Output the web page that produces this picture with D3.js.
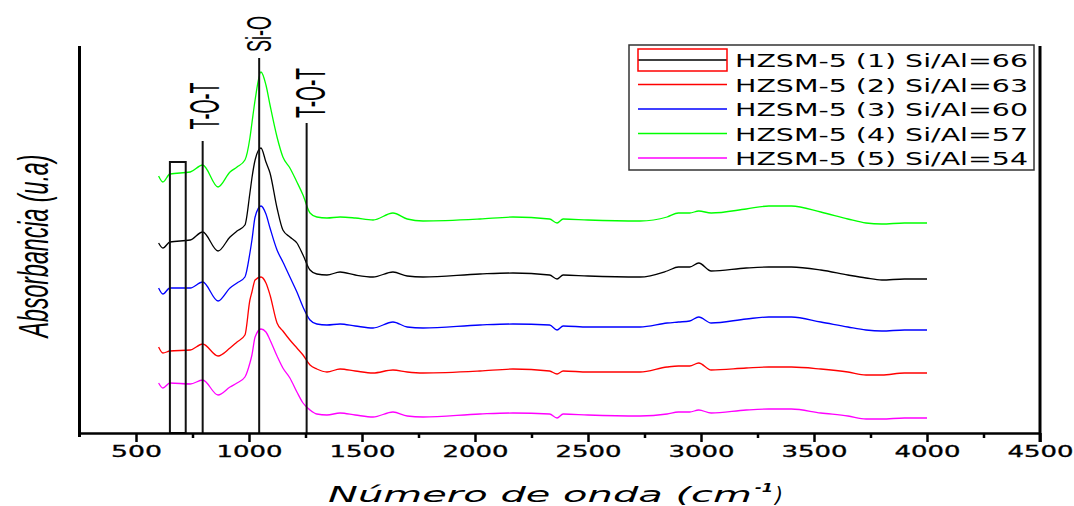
<!DOCTYPE html>
<html><head><meta charset="utf-8">
<script src="https://cdn.jsdelivr.net/npm/d3@7"></script>
<style>body{margin:0;background:#fff}svg{display:block}</style>
</head><body><svg id="c" width="1074" height="506"></svg>
<script>
// ---- data ----
const wavenumbers = [600,619,650,740,795,863,916,947,982,1004,1013,1027,1053,1075,1093,1124,1150,1181,1212,1239,1270,1300,1345,1403,1470,1549,1637,1700,1770,2022,2168,2330,2363,2390,2500,2730,2850,2900,2950,2990,3045,3200,3300,3400,3530,3650,3730,3800,3900,4000];
const hzsm1 = [1.90,1.85,1.91,1.93,2.01,1.82,1.96,2.02,2.08,2.40,2.55,2.73,2.85,2.71,2.60,2.25,2.03,1.96,1.90,1.78,1.63,1.59,1.58,1.61,1.58,1.56,1.61,1.57,1.56,1.59,1.60,1.58,1.54,1.58,1.57,1.56,1.62,1.66,1.66,1.70,1.62,1.65,1.66,1.66,1.63,1.58,1.55,1.53,1.54,1.54];
const hzsm2 = [0.86,0.80,0.82,0.83,0.89,0.77,0.85,0.91,0.98,1.33,1.41,1.53,1.56,1.50,1.38,1.10,1.02,0.93,0.85,0.78,0.68,0.64,0.61,0.64,0.62,0.60,0.63,0.61,0.60,0.62,0.64,0.62,0.59,0.62,0.61,0.61,0.66,0.67,0.67,0.70,0.63,0.65,0.66,0.66,0.64,0.61,0.58,0.58,0.60,0.60];
const hzsm3 = [1.45,1.39,1.45,1.45,1.51,1.32,1.45,1.50,1.56,1.80,1.93,2.16,2.27,2.19,2.05,1.83,1.71,1.56,1.41,1.26,1.13,1.09,1.08,1.09,1.07,1.05,1.11,1.06,1.05,1.08,1.09,1.08,1.03,1.07,1.06,1.06,1.10,1.11,1.12,1.16,1.10,1.14,1.16,1.16,1.11,1.06,1.03,1.02,1.03,1.03];
const hzsm4 = [2.57,2.51,2.59,2.61,2.68,2.46,2.61,2.66,2.73,2.95,3.10,3.33,3.61,3.48,3.28,2.96,2.76,2.65,2.51,2.38,2.20,2.16,2.15,2.16,2.15,2.13,2.20,2.14,2.12,2.14,2.16,2.14,2.10,2.14,2.13,2.12,2.16,2.20,2.20,2.22,2.20,2.24,2.27,2.27,2.21,2.14,2.10,2.09,2.10,2.10];
const hzsm5 = [0.50,0.45,0.50,0.49,0.53,0.38,0.46,0.50,0.56,0.70,0.78,0.96,1.04,1.01,0.93,0.77,0.65,0.55,0.41,0.30,0.23,0.19,0.18,0.20,0.18,0.16,0.21,0.17,0.16,0.19,0.20,0.19,0.15,0.19,0.18,0.17,0.19,0.21,0.21,0.23,0.20,0.23,0.24,0.24,0.20,0.17,0.14,0.14,0.15,0.15];
const seriesNames = ["HZSM-5 (1) Si/Al=66","HZSM-5 (2) Si/Al=63","HZSM-5 (3) Si/Al=60","HZSM-5 (4) Si/Al=57","HZSM-5 (5) Si/Al=54"];
const seriesColors = ["#000000","#ff0000","#0000ff","#00ff00","#ff00ff"];
const xTicks = [500,1000,1500,2000,2500,3000,3500,4000,4500];
const xMinorTicks = [750,1250,1750,2250,2750,3250,3750,4250];
const bandWn = [795,1045,1255];
const bandTop = [2.92,3.75,3.10];
const bandLabels = ["T-O-T","Si-O","T-O-T"];
const boxWn = [650,720];
const boxTop = 2.71;

// ---- chart ----
const svg = d3.select("#c");
const x = d3.scaleLinear().domain([250,4500]).range([79.5,1040]);
const y = d3.scaleLinear().domain([0,3.87]).range([433,46]);
const series = [hzsm1,hzsm2,hzsm3,hzsm4,hzsm5];

const line = d3.line().x((d,i)=>x(wavenumbers[i])).y(d=>y(d)).curve(d3.curveMonotoneX);
const drawOrder = [4,1,2,0,3];
drawOrder.forEach(k=>{
  svg.append("path").attr("d",line(series[k])).attr("fill","none")
    .attr("stroke",seriesColors[k]).attr("stroke-width",1.3);
});

// condensed rotated text helper (scale along reading direction)
function rotText(str, cx, baseX, size, len, opts){
  const t = svg.append("text").text(str)
    .attr("text-anchor","middle").attr("font-family","Liberation Sans, Arial, sans-serif")
    .attr("font-size",size).attr("fill","#000");
  if (opts && opts.italic) t.attr("font-style","italic");
  const nat = t.node().getComputedTextLength();
  t.attr("transform",`translate(${baseX},${cx}) rotate(-90) scale(${len/nat},1)`);
  return t;
}

// band annotation lines
const ann = svg.append("g").attr("stroke","#111").attr("stroke-width",2).attr("fill","none");
ann.append("rect").attr("x",x(boxWn[0])).attr("y",y(boxTop))
  .attr("width",x(boxWn[1])-x(boxWn[0])).attr("height",y(0)-y(boxTop));
bandWn.forEach((w,i)=>{
  ann.append("line").attr("x1",x(w)).attr("x2",x(w)).attr("y1",y(bandTop[i])).attr("y2",y(0));
});
const labFs = [42,36,42], labLen=[47,36,50], labCy=[106,34,93], labOff=[16,12,18];
bandLabels.forEach((t,i)=>{
  rotText(t, labCy[i], x(bandWn[i])+labOff[i], labFs[i], labLen[i]);
});

// axes
const gx = svg.append("g").attr("transform","translate(0,433)")
  .call(d3.axisBottom(x).tickValues(xTicks).tickSize(9).tickSizeOuter(0).tickPadding(4).tickFormat(d3.format("d")));
gx.select(".domain").attr("stroke","#000").attr("stroke-width",2.5);
gx.selectAll(".tick line").attr("stroke","#000").attr("stroke-width",2.5);
gx.selectAll(".tick text").attr("font-family","DejaVu Sans, Verdana, sans-serif")
  .attr("font-size",15).attr("fill","#000").attr("stroke","#000").attr("stroke-width",0.3)
  .attr("textLength",d=>String(d).length===3?51:66).attr("lengthAdjust","spacingAndGlyphs");
const gm = svg.append("g").attr("transform","translate(0,433)")
  .call(d3.axisBottom(x).tickValues(xMinorTicks).tickSize(5).tickSizeOuter(0).tickFormat(""));
gm.select(".domain").remove();
gm.selectAll(".tick line").attr("stroke","#000").attr("stroke-width",2.5);

svg.append("line").attr("x1",79.5).attr("x2",79.5).attr("y1",46).attr("y2",437)
  .attr("stroke","#000").attr("stroke-width",3);
svg.append("line").attr("x1",1040).attr("x2",1040).attr("y1",46).attr("y2",442)
  .attr("stroke","#000").attr("stroke-width",3);

// axis titles
rotText("Absorbancia (u.a)", 246, 48, 43, 183, {italic:true});
svg.append("text").text("Número de onda (cm")
  .attr("x",328).attr("y",502).attr("font-family","DejaVu Sans, Verdana, sans-serif")
  .attr("font-style","italic").attr("font-size",20.5).attr("textLength",424)
  .attr("lengthAdjust","spacingAndGlyphs").attr("fill","#000");
svg.append("text").text("-1").attr("x",755).attr("y",492)
  .attr("font-family","DejaVu Sans, Verdana, sans-serif").attr("font-style","italic")
  .attr("font-size",12).attr("font-weight","bold").attr("textLength",18).attr("lengthAdjust","spacingAndGlyphs").attr("fill","#000");
svg.append("text").text(")").attr("x",775).attr("y",502)
  .attr("font-family","DejaVu Sans, Verdana, sans-serif").attr("font-style","italic")
  .attr("font-size",20.5).attr("fill","#000");

// legend
const lg = svg.append("g");
lg.append("rect").attr("x",629).attr("y",45).attr("width",405).attr("height",125)
  .attr("fill","#fff").attr("stroke","#333").attr("stroke-width",1.5);
seriesNames.forEach((n,i)=>{
  const yy = 60 + i*24.5;
  lg.append("line").attr("x1",638).attr("x2",727).attr("y1",yy).attr("y2",yy)
    .attr("stroke",seriesColors[i]).attr("stroke-width",1.5);
  lg.append("text").text(n).attr("x",735).attr("y",yy+7)
    .attr("font-family","DejaVu Sans, Verdana, sans-serif").attr("font-size",18)
    .attr("textLength",293).attr("lengthAdjust","spacingAndGlyphs").attr("fill","#000");
});
lg.append("rect").attr("x",638).attr("y",49).attr("width",89).attr("height",22)
  .attr("fill","none").attr("stroke","#ff0000").attr("stroke-width",1.5);
</script></body></html>
